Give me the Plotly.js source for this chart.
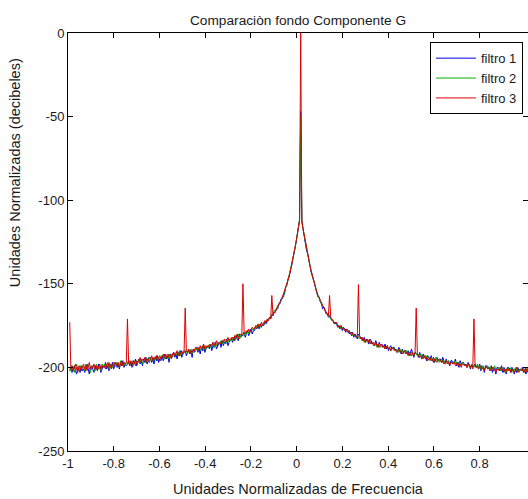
<!DOCTYPE html>
<html>
<head>
<meta charset="utf-8">
<script src="https://cdn.plot.ly/plotly-3.0.1.min.js"></script>
<style>html,body{margin:0;padding:0;background:#fff;}#chart{width:528px;height:499px;}</style>
</head>
<body>
<div id="chart"></div>
<script>
// Normalized frequency grid: first sample and step (samples are evenly spaced)
const freqStart = -0.9925;
const freqStep = 0.00505;

const seriesNames = ["filtro 1", "filtro 2", "filtro 3"];

// filtro 1 (blue), dB values, left to right
const filtro1 = [
-202,-200,-203,-201,-199,-202,-204,-200,-201,-203,
-199,-202,-201,-203,-200,-198,-201,-204,-200,-199,
-201,-203,-199,-200,-202,-198,-200,-203,-201,-199,
-200,-197,-201,-199,-202,-198,-200,-197,-201,-199,
-197,-200,-198,-201,-197,-199,-196,-200,-198,-199,
-198,-196,-199,-197,-200,-196,-198,-195,-199,-197,
-195,-198,-196,-199,-195,-197,-194,-198,-196,-197,
-194,-197,-195,-198,-194,-196,-193,-197,-195,-196,
-193,-196,-194,-192,-195,-193,-197,-192,-194,-193,
-191,-194,-192,-195,-191,-193,-190,-194,-192,-191,
-190,-193,-191,-189,-192,-190,-194,-189,-191,-190,
-188,-191,-189,-192,-188,-190,-187,-191,-189,-188,
-187,-189,-186,-190,-187,-188,-185,-189,-187,-186,
-185,-188,-184,-187,-185,-186,-183,-187,-185,-184,
-183,-185,-182,-184,-181,-183,-184,-180,-182,-181,
-181,-179,-182,-180,-178,-181,-179,-177,-180,-178,
-178,-176,-177,-175,-177,-174,-176,-174,-175,-173,
-174,-172,-172,-170,-171,-169,-169,-167,-167,-165,
-165,-162,-162,-159,-159,-157,-156,-152,-151,-147,
-146,-142,-140,-136,-133,-129,-125,-121,-117,-112,
-47,
-113,-117,-122,-125,-130,-132,-137,-139,-143,-145,
-148,-150,-153,-155,-158,-158,-161,-162,-165,-164,
-166,-168,-168,-170,-169,-171,-172,-172,-174,-173,
-174,-176,-175,-177,-175,-178,-176,-177,-179,-177,
-178,-180,-179,-181,-179,-182,-180,-181,-183,-180,
-181,-183,-182,-184,-182,-185,-183,-184,-186,-183,
-184,-186,-185,-187,-184,-186,-188,-185,-187,-186,
-187,-188,-186,-189,-187,-190,-188,-187,-189,-188,
-188,-190,-189,-191,-188,-190,-192,-189,-191,-190,
-190,-192,-190,-193,-191,-189,-192,-194,-191,-192,
-192,-194,-191,-193,-195,-192,-194,-193,-196,-193,
-194,-195,-193,-196,-194,-197,-195,-194,-196,-195,
-195,-197,-194,-196,-198,-195,-197,-196,-199,-196,
-196,-198,-197,-195,-199,-197,-200,-196,-198,-197,
-197,-199,-198,-200,-197,-199,-201,-198,-200,-199,
-198,-200,-199,-201,-198,-202,-199,-200,-203,-199,
-199,-201,-200,-202,-199,-203,-200,-201,-204,-200,
-200,-202,-201,-199,-203,-200,-202,-204,-201,-200,
-201,-203,-200,-202,-204,-201,-203,-200,-202,-201,
-202,-200,-203,-201,-204,-202,-200,-203,-201,-202
];

// filtro 2 (green)
const filtro2 = [
-200,-202,-199,-201,-203,-200,-198,-201,-202,-199,
-201,-199,-200,-202,-198,-201,-199,-200,-203,-200,
-199,-200,-202,-198,-200,-201,-199,-202,-198,-200,
-198,-200,-199,-197,-201,-199,-198,-200,-197,-198,
-199,-197,-198,-200,-196,-198,-199,-197,-199,-197,
-197,-198,-196,-198,-197,-199,-196,-197,-198,-196,
-196,-197,-195,-198,-196,-195,-197,-196,-194,-197,
-195,-196,-194,-196,-195,-193,-196,-194,-195,-194,
-194,-192,-195,-193,-194,-192,-195,-193,-192,-194,
-192,-193,-191,-193,-192,-190,-193,-191,-192,-190,
-191,-190,-192,-190,-191,-189,-192,-190,-189,-190,
-189,-190,-188,-190,-189,-187,-190,-188,-189,-187,
-188,-186,-188,-187,-185,-188,-186,-187,-185,-186,
-186,-184,-186,-185,-183,-186,-184,-185,-183,-184,
-182,-184,-183,-181,-183,-182,-180,-183,-181,-180,
-180,-181,-179,-180,-178,-180,-178,-179,-177,-178,
-176,-177,-175,-176,-174,-176,-175,-174,-173,-174,
-172,-173,-171,-170,-170,-168,-168,-166,-166,-165,
-163,-163,-161,-160,-158,-157,-155,-152,-150,-148,
-145,-142,-139,-136,-132,-129,-125,-121,-117,-112,
-50,
-112,-117,-121,-125,-129,-133,-136,-139,-142,-145,
-147,-150,-152,-155,-157,-159,-160,-162,-163,-164,
-165,-167,-168,-169,-170,-171,-172,-172,-173,-174,
-174,-175,-176,-175,-177,-176,-177,-178,-177,-178,
-179,-178,-180,-179,-181,-180,-181,-182,-181,-182,
-183,-182,-184,-183,-185,-183,-184,-185,-184,-186,
-185,-186,-185,-187,-186,-188,-186,-187,-188,-187,
-188,-187,-189,-188,-187,-189,-188,-190,-189,-188,
-189,-190,-189,-191,-190,-189,-191,-190,-192,-190,
-191,-190,-192,-191,-193,-191,-192,-193,-191,-192,
-193,-192,-194,-192,-193,-195,-193,-194,-193,-195,
-194,-196,-194,-195,-197,-195,-194,-196,-195,-197,
-196,-195,-197,-196,-198,-196,-197,-196,-198,-197,
-197,-198,-196,-198,-197,-199,-197,-198,-199,-197,
-198,-199,-198,-200,-198,-199,-200,-198,-199,-200,
-199,-200,-198,-200,-199,-201,-200,-199,-201,-200,
-200,-199,-201,-200,-202,-200,-201,-199,-202,-201,
-201,-200,-202,-201,-200,-202,-201,-203,-200,-201,
-202,-200,-201,-203,-201,-200,-202,-201,-203,-201,
-201,-202,-200,-203,-201,-202,-200,-202,-201,-203
];

// filtro 3 (red), with the narrow spurious peaks
const filtro3 = [
-173,-201,-199,-202,-200,-198,-201,-203,-199,-200,
-202,-200,-198,-201,-199,-202,-200,-197,-201,-200,
-200,-198,-201,-199,-202,-200,-198,-201,-199,-200,
-199,-201,-198,-200,-197,-199,-201,-198,-199,-197,
-198,-199,-197,-200,-198,-196,-199,-197,-198,-197,
-171,-197,-199,-196,-198,-196,-197,-199,-196,-197,
-196,-194,-197,-195,-196,-194,-197,-195,-196,-194,
-195,-193,-196,-194,-195,-193,-196,-194,-193,-195,
-193,-194,-192,-195,-193,-194,-192,-193,-195,-192,
-191,-193,-192,-190,-193,-191,-192,-190,-192,-191,
-164.5,-190,-191,-189,-192,-190,-191,-189,-190,-188,
-189,-188,-190,-187,-189,-188,-186,-189,-187,-188,
-187,-188,-186,-187,-185,-187,-186,-184,-187,-185,
-185,-186,-184,-185,-183,-185,-184,-182,-184,-183,
-183,-182,-184,-181,-182,-180,-183,-181,-180,-181,
-150,-179,-180,-178,-179,-177,-179,-178,-176,-177,
-177,-175,-176,-174,-176,-175,-173,-175,-174,-172,
-173,-171,-172,-170,-171,-157,-169,-167,-167,-165,
-164,-162,-161,-160,-158,-156,-155,-153,-150,-148,
-145,-143,-139,-136,-132,-129,-125,-121,-117,-112,
0,
-112,-117,-121,-125,-129,-132,-136,-139,-142,-145,
-148,-150,-152,-155,-157,-158,-160,-161,-163,-164,
-166,-167,-168,-169,-157,-170,-171,-172,-173,-174,
-173,-175,-176,-175,-176,-177,-176,-178,-177,-178,
-179,-178,-180,-179,-180,-181,-180,-182,-181,-150.5,
-181,-183,-182,-184,-183,-185,-184,-183,-185,-184,
-186,-185,-187,-186,-185,-187,-186,-188,-187,-186,
-188,-187,-189,-188,-187,-189,-188,-190,-189,-188,
-190,-189,-191,-190,-189,-191,-190,-192,-191,-190,
-192,-191,-193,-191,-192,-193,-191,-193,-192,-164.5,
-192,-193,-194,-193,-195,-194,-193,-195,-194,-196,
-195,-194,-196,-195,-197,-195,-196,-197,-195,-196,
-196,-197,-196,-198,-197,-196,-198,-197,-199,-197,
-197,-198,-197,-199,-198,-197,-199,-198,-200,-198,
-198,-199,-198,-200,-199,-198,-200,-199,-201,-171,
-199,-200,-199,-201,-200,-199,-201,-200,-202,-200,
-200,-201,-200,-202,-201,-200,-202,-201,-203,-201,
-201,-202,-200,-202,-201,-203,-201,-202,-200,-202,
-201,-203,-202,-201,-203,-202,-200,-203,-202,-201,
-202,-201,-203,-202,-200,-203,-201,-202,-201,-173
];

const seriesColors = ["#0000e0", "#00b000", "#dd0000"];

const xTickVals = [-1, -0.8, -0.6, -0.4, -0.2, 0, 0.2, 0.4, 0.6, 0.8];
const xTickText = ["-1", "-0.8", "-0.6", "-0.4", "-0.2", "0", "0.2", "0.4", "0.6", "0.8"];
const yTickVals = [-250, -200, -150, -100, -50, 0];
const yTickText = ["-250", "-200", "-150", "-100", "-50", "0"];

const yTitleText = "Unidades Normalizadas (decibeles)";

const allSeries = [filtro1, filtro2, filtro3];
const traces = allSeries.map((ys, k) => ({
  type: "scatter",
  mode: "lines",
  name: seriesNames[k],
  x0: freqStart,
  dx: freqStep,
  y: ys,
  line: {color: seriesColors[k], width: 1}
}));

const FONT = "Liberation Sans, Arial, sans-serif";
const TXT = "#1a1a1a";
const layout = {
  width: 528,
  height: 499,
  margin: {l: 68, r: 0, t: 33, b: 48, pad: 0},
  paper_bgcolor: "#ffffff",
  plot_bgcolor: "#ffffff",
  font: {family: FONT, size: 13, color: TXT},
  showlegend: true,
  title: {
    text: "Comparaciòn fondo Componente G",
    font: {family: FONT, size: 13.7, color: TXT},
    x: 0.5, xref: "paper", xanchor: "center",
    y: 0.96, yref: "container", yanchor: "middle"
  },
  xaxis: {
    range: [-1, 1.0114],
    tickmode: "array",
    tickvals: xTickVals,
    ticktext: xTickText,
    ticks: "inside",
    ticklen: 5,
    tickcolor: "#000",
    showline: true,
    linecolor: "#000",
    linewidth: 1,
    mirror: "ticks",
    showgrid: false,
    zeroline: false,
    tickfont: {family: FONT, size: 13, color: TXT},
    title: {text: "Unidades Normalizadas de Frecuencia", font: {family: FONT, size: 14.5, color: TXT}, standoff: 14}
  },
  yaxis: {
    range: [-250, 0],
    tickmode: "array",
    tickvals: yTickVals,
    ticktext: yTickText,
    ticks: "inside",
    ticklen: 5,
    tickcolor: "#000",
    showline: true,
    linecolor: "#000",
    linewidth: 1,
    mirror: "ticks",
    showgrid: false,
    zeroline: false,
    tickfont: {family: FONT, size: 13, color: TXT}
  },
  annotations: [{
    text: yTitleText,
    textangle: -90,
    xref: "paper", x: -0.115, xanchor: "center",
    yref: "paper", y: 0.665, yanchor: "middle",
    showarrow: false,
    font: {family: FONT, size: 14.5, color: TXT}
  }],
  legend: {
    x: 0.989, xanchor: "right", xref: "paper",
    y: 0.978, yanchor: "top", yref: "paper",
    bgcolor: "#ffffff",
    bordercolor: "#000",
    borderwidth: 1,
    font: {family: FONT, size: 13, color: TXT},
    tracegroupgap: 0,
    itemwidth: 40
  }
};

Plotly.newPlot("chart", traces, layout, {displayModeBar: false, staticPlot: true});
</script>
</body>
</html>
